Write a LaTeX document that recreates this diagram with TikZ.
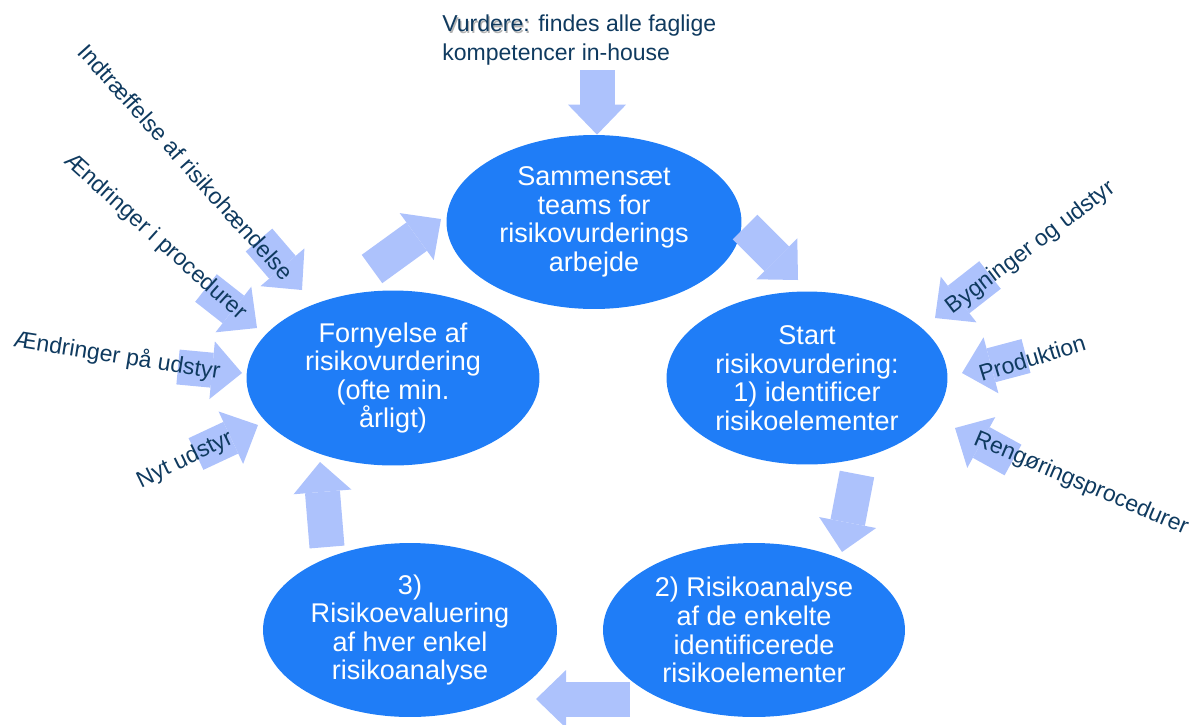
\documentclass[tikz,border=0pt]{standalone}
\usepackage{fontspec}
\setmainfont{Liberation Sans}
\usetikzlibrary{arrows.meta,shapes.geometric}
\definecolor{bub}{RGB}{31,125,247}
\definecolor{arw}{RGB}{173,194,252}
\definecolor{lbltxt}{RGB}{15,58,95}
\newcommand{\bubfont}{\fontsize{15.4pt}{16.3pt}\selectfont}
\newcommand{\lblfont}{\fontsize{13.1pt}{16pt}\selectfont}
\newcommand{\shd}[1]{\rlap{\kern0.7pt\raisebox{-0.7pt}{\textcolor{black!30}{#1}}}#1}
\tikzset{bubble/.style={ellipse,fill=bub,text=white,inner sep=0pt,align=center,font=\bubfont},
  blk/.style={draw=arw,line width=0.7cm,-{Triangle[length=0.6cm,width=1.16cm,line width=0pt]}},
  lbl/.style={text=lbltxt,inner sep=0pt,font=\lblfont}}

\begin{document}
\begin{tikzpicture}[x=0.02cm,y=-0.02cm]
\useasboundingbox (0,0) rectangle (1200,724);
% the five steps
\node[bubble,minimum width=5.9cm,minimum height=3.48cm] (sa) at (594,222) {Sammensæt\\teams for\\risikovurderings\\arbejde};
\node[bubble,minimum width=5.62cm,minimum height=3.46cm] (st) at (807,378) {Start\\risikovurdering:\\1) identificer\\risikoelementer};
\node[bubble,minimum width=6.04cm,minimum height=3.48cm] (ra) at (754,630) {2) Risikoanalyse\\af de enkelte\\identificerede\\risikoelementer};
\node[bubble,minimum width=5.88cm,minimum height=3.48cm] (re) at (410,630) {3)\\Risikoevaluering\\af hver enkel\\risikoanalyse};
\node[bubble,minimum width=5.86cm,minimum height=3.5cm] (fo) at (393,378) {Fornyelse af\\risikovurdering\\(ofte min.\\årligt)};
% cycle arrows
\coordinate (c1a) at (372,269); \coordinate (c1b) at (441,219);
\coordinate (c2a) at (745,227); \coordinate (c2b) at (798,280);
\coordinate (c3a) at (857,474); \coordinate (c3b) at (842,552);
\coordinate (c4a) at (630,699); \coordinate (c4b) at (536,699);
\coordinate (c5a) at (327,547); \coordinate (c5b) at (320,462);
\draw[blk] (c1a)--(c1b); \draw[blk] (c2a)--(c2b); \draw[blk] (c3a)--(c3b);
\draw[blk] (c4a)--(c4b); \draw[blk] (c5a)--(c5b);
% inputs
\coordinate (t0) at (597,70);
\draw[blk] (t0)--(t0 |- sa.north);
\coordinate (i1a) at (259,240); \coordinate (i1b) at (302,290);
\coordinate (i2a) at (206,288); \coordinate (i2b) at (257,328);
\coordinate (i3a) at (178,367); \coordinate (i3b) at (242,373);
\coordinate (i4a) at (196,454); \coordinate (i4b) at (258,425);
\coordinate (i5a) at (990,275); \coordinate (i5b) at (935,318);
\coordinate (i6a) at (1026,356); \coordinate (i6b) at (962,373);
\coordinate (i7a) at (1013,460); \coordinate (i7b) at (955,428);
\draw[blk] (i1a)--(i1b); \draw[blk] (i2a)--(i2b); \draw[blk] (i3a)--(i3b);
\draw[blk] (i4a)--(i4b); \draw[blk] (i5a)--(i5b); \draw[blk] (i6a)--(i6b);
\draw[blk] (i7a)--(i7b);
% labels
\node[lbl,anchor=west,align=left] (vu) at (442,40) {\shd{Vurdere:} findes alle faglige\\kompetencer in-house};
\node[lbl,rotate=-48] (l1) at (186,162) {Indtræffelse af risikohændelse};
\node[lbl,rotate=-42] (l2) at (155,237) {Ændringer i procedurer};
\node[lbl,rotate=-9] (l3) at (117,356) {Ændringer på udstyr};
\node[lbl,rotate=26] (l4) at (185,460) {Nyt udstyr};
\node[lbl,rotate=37] (l5) at (1031,248) {Bygninger og udstyr};
\node[lbl,rotate=17] (l6) at (1032,358) {Produktion};
\node[lbl,rotate=-23] (l7) at (1081,484) {Rengøringsprocedurer};
\end{tikzpicture}
\end{document}
